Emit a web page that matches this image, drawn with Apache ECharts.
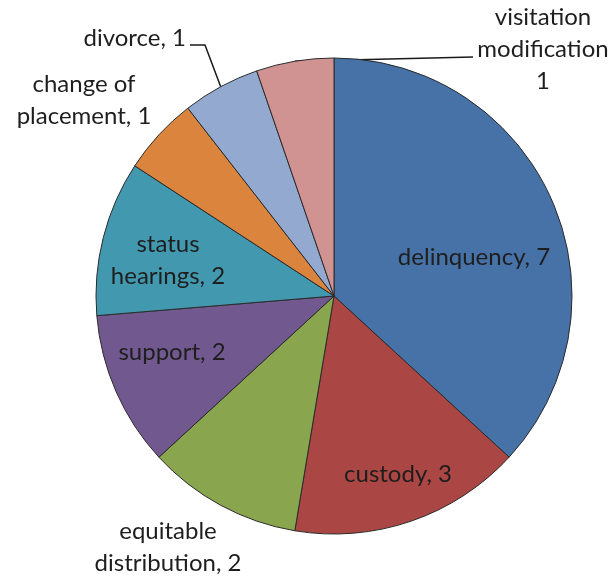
<!DOCTYPE html>
<html>
<head>
<meta charset="utf-8">
<script src="https://cdn.jsdelivr.net/npm/echarts@6/dist/echarts.min.js"></script>
<style>
  html, body { margin: 0; padding: 0; background: #fff; }
  #chart { width: 614px; height: 581px; }
</style>
</head>
<body>
<div id="chart"></div>
<script>
// Case types, clockwise from 12 o'clock
const categories = ['delinquency', 'custody', 'equitable distribution', 'support',
  'status hearings', 'change of placement', 'divorce', 'visitation modification'];
const counts = [7, 3, 2, 2, 2, 1, 1, 1];
const labelTexts = ['delinquency, 7', 'custody, 3', 'equitable\ndistribution, 2', 'support, 2',
  'status\nhearings, 2', 'change of\nplacement, 1', 'divorce, 1', 'visitation\nmodification\n1'];
const colors = ['#4672A8', '#AA4643', '#89A54E', '#71588F', '#4198AF', '#DB843D', '#93A9CF', '#D19392'];

const cx = 334, cy = 296, R = 238;
const total = counts.reduce((a, b) => a + b, 0);

// mid angle of each slice, clockwise from top (for leader line start)
let acc = 0;
const midAngles = counts.map(v => {
  const a = (acc + v / 2) / total * Math.PI * 2;
  acc += v;
  return a;
});

// label anchors, same order as categories
const labelAnchors = [
  { x: 474, y: 257, align: 'center' },
  { x: 398, y: 474, align: 'center' },
  { x: 168, y: 547, align: 'center' },
  { x: 172, y: 352, align: 'center' },
  { x: 168, y: 260, align: 'center' },
  { x: 84, y: 100, align: 'center' },
  { x: 186, y: 38, align: 'right' },
  { x: 543, y: 49, align: 'center' }
];

const chart = echarts.init(document.getElementById('chart'));

const option = {
  animation: false,
  backgroundColor: '#ffffff',
  series: [{
    type: 'pie',
    center: [cx, cy],
    radius: R,
    startAngle: 90,
    clockwise: true,
    avoidLabelOverlap: false,
    itemStyle: { borderColor: '#2b2b2b', borderWidth: 1 },
    label: {
      show: true,
      position: 'outside',
      fontFamily: 'Lato',
      fontSize: 24,
      lineHeight: 32,
      color: '#1e1e1e',
      align: 'center',
      formatter: p => labelTexts[p.dataIndex]
    },
    labelLine: { show: false, lineStyle: { color: '#1a1a1a', width: 1.5 } },
    emphasis: { disabled: true },
    data: categories.map((name, i) => ({
      name: name,
      value: counts[i],
      itemStyle: { color: colors[i] },
      labelLine: { show: i === 6 || i === 7 }
    })),
    labelLayout: function (params) {
      const i = params.dataIndex;
      const o = labelAnchors[i];
      const res = { x: o.x, y: o.y, align: o.align, verticalAlign: 'middle' };
      const start = [cx + R * Math.sin(midAngles[i]), cy - R * Math.cos(midAngles[i])];
      if (i === 6) {
        res.labelLinePoints = [start, [205, 45], [190, 45]];
      } else if (i === 7) {
        res.labelLinePoints = [start, [473, 57]];
      }
      return res;
    }
  }]
};

chart.setOption(option);
</script>
</body>
</html>
